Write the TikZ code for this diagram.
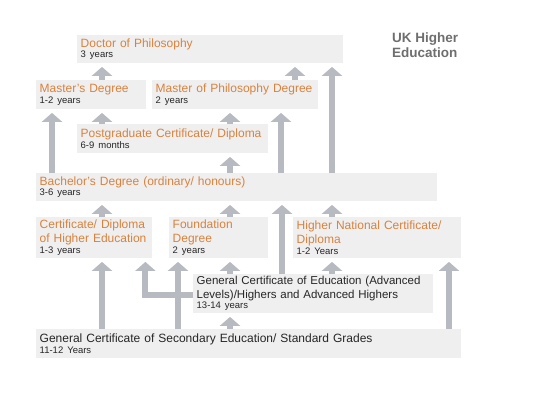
\documentclass[tikz,border=0pt]{standalone}
\usepackage{fontspec}
\setmainfont{Liberation Sans}
\usepackage{tikz}
\usetikzlibrary{arrows.meta}

\definecolor{boxgray}{HTML}{EFEFEF}
\definecolor{titleorange}{HTML}{D9823E}
\definecolor{arrowgray}{HTML}{B7BBC1}
\definecolor{headgray}{HTML}{6E6E6E}
\definecolor{textdark}{HTML}{262626}

\newcommand{\ttl}[1]{{\color{titleorange}#1}}
\newcommand{\dur}[1]{{\fontsize{9.5}{11}\selectfont #1}}
\newcommand{\nohyph}{\hyphenpenalty=10000\relax\hbadness=10000\relax\hfuzz=20pt\relax}

\tikzset{
    level/.style={fill=boxgray, anchor=north west, inner xsep=3.5pt, inner ysep=0pt,
        align=left, text=textdark, font=\fontsize{12}{14}\selectfont,
        execute at begin node=\nohyph},
    uparrow/.style={draw=arrowgray, line width=6pt, shorten >=3.5pt,
        -{Triangle[width=20pt,length=9pt]}}
}

\begin{document}
\begin{tikzpicture}[x=1pt, y=-1pt]
    \useasboundingbox (0,0) rectangle (549,405);

    % boxes
    \node[level, text width=259pt, minimum height=28pt] (phd) at (77,35)
        {\ttl{Doctor of Philosophy}\\[-3.5pt]\dur{3 years}};
    \node[level, text width=103pt, minimum height=29pt] (ms) at (36,80)
        {\ttl{Master's Degree}\\[-3.5pt]\dur{1-2 years}};
    \node[level, text width=159pt, minimum height=29pt] (mphil) at (152,80)
        {\ttl{Master of Philosophy Degree}\\[-3.5pt]\dur{2 years}};
    \node[level, text width=184pt, minimum height=29pt] (pg) at (77,124)
        {\ttl{Postgraduate Certificate/ Diploma}\\[-3.5pt]\dur{6-9 months}};
    \node[level, text width=394pt, minimum height=28pt] (ba) at (36,173)
        {\ttl{Bachelor's Degree (ordinary/ honours)}\\[-3.5pt]\dur{3-6 years}};
    \node[level, text width=109pt, minimum height=41pt] (che) at (36,217)
        {\ttl{Certificate/ Diploma}\\\ttl{of Higher Education}\\[-3.5pt]\dur{1-3 years}};
    \node[level, text width=92pt, minimum height=41pt] (fd) at (169,217)
        {\ttl{Foundation}\\\ttl{Degree}\\[-3.5pt]\dur{2 years}};
    \node[level, text width=161pt, minimum height=41pt] (hnc) at (293,217)
        {\ttl{Higher National Certificate/}\\\ttl{Diploma}\\[-3.5pt]\dur{1-2 Years}};
    \node[level, text width=233pt, minimum height=39pt, font=\fontsize{11.5}{13.5}\selectfont] (gce) at (193,274)
        {General Certificate of Education (Advanced\\Levels)/Highers and Advanced Highers\\[-3pt]\dur{13-14 years}};
    \node[level, text width=418pt, minimum height=29pt] (gcse) at (36,329)
        {General Certificate of Secondary Education/ Standard Grades\\[-3.5pt]\dur{11-12 Years}};

    % title
    \node[anchor=north west, inner sep=0pt, align=left, text=headgray,
        font=\bfseries\fontsize{13.5}{15}\selectfont] (uk) at (392,33)
        {UK Higher\\Education};

    % progression arrows
    \foreach \src/\dst/\xx in {ms/phd/102, mphil/phd/295, ba/phd/332,
        ba/ms/52, pg/ms/102, pg/mphil/230, ba/mphil/281, ba/pg/230,
        che/ba/102, fd/ba/230, gce/ba/282, hnc/ba/332,
        gcse/che/102, gcse/fd/178, gce/fd/230, gce/hnc/332,
        gcse/gce/230, gcse/hnc/449}
    {
        \coordinate (col) at (\xx,0);
        \draw[uparrow] (\src.north -| col) -- (\dst.south -| col);
    }
    \draw[uparrow] ([yshift=-1.5pt]gce.west) -| ([xshift=-7pt]che.south east);
\end{tikzpicture}
\end{document}
